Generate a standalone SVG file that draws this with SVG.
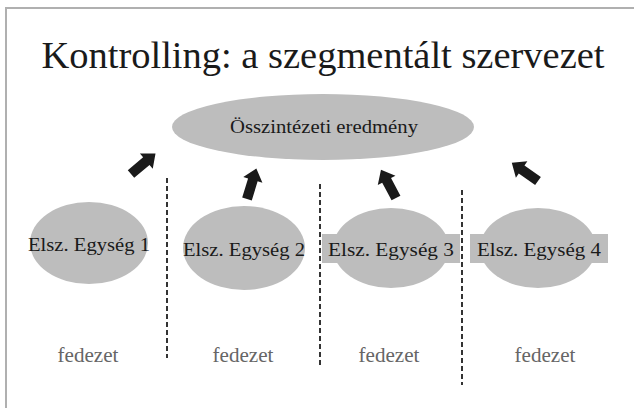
<svg xmlns="http://www.w3.org/2000/svg" width="634" height="408" viewBox="0 0 634 408">
<style>
.serif{font-family:"Liberation Serif","Times New Roman",serif;}
.title{font-size:38px;fill:#1a1a1a;}
.node{fill:#bdbdbd;}
.lbl{font-size:19px;fill:#1a1a1a;text-anchor:middle;}
.top{font-size:19px;fill:#1a1a1a;text-anchor:middle;}
.fed{font-size:20px;fill:#666;text-anchor:middle;}
.dash{stroke:#333;stroke-width:2;stroke-dasharray:5 3;fill:none;}
.arr{fill:#1a1a1a;}
</style>
<defs>
<polygon id="arrow" points="-5,0 -5,-20 -10,-20 0,-32 10,-20 5,-20 5,0"/>
</defs>
<rect x="0" y="0" width="634" height="408" fill="#fff"/>
<path d="M6,408 V8 H634" fill="none" stroke="#b0b0b0" stroke-width="2"/>
<text class="serif title" x="323" y="68" text-anchor="middle" textLength="563" lengthAdjust="spacingAndGlyphs">Kontrolling: a szegmentált szervezet</text>
<g id="total">
<ellipse class="node" cx="323" cy="127" rx="151" ry="33"/>
<text class="serif top" x="324" y="133" textLength="188" lengthAdjust="spacingAndGlyphs">Összintézeti eredmény</text>
</g>
<g id="unit1">
<ellipse class="node" cx="89" cy="243" rx="59" ry="41"/>
<text class="serif lbl" x="89" y="251" textLength="122" lengthAdjust="spacingAndGlyphs">Elsz. Egység 1</text>
</g>
<g id="unit2">
<ellipse class="node" cx="244" cy="248" rx="61" ry="42"/>
<text class="serif lbl" x="244" y="256" textLength="122" lengthAdjust="spacingAndGlyphs">Elsz. Egység 2</text>
</g>
<g id="unit3">
<ellipse class="node" cx="391" cy="248" rx="58" ry="40"/>
<rect class="node" x="322" y="234" width="138" height="29"/>
<text class="serif lbl" x="391" y="256" textLength="126" lengthAdjust="spacingAndGlyphs">Elsz. Egység 3</text>
</g>
<g id="unit4">
<ellipse class="node" cx="538" cy="248" rx="58" ry="40"/>
<rect class="node" x="470" y="234" width="138" height="29"/>
<text class="serif lbl" x="539" y="256" textLength="124" lengthAdjust="spacingAndGlyphs">Elsz. Egység 4</text>
</g>
<g id="fedezet">
<text class="serif fed" x="88" y="362" textLength="61" lengthAdjust="spacingAndGlyphs">fedezet</text>
<text class="serif fed" x="243" y="362" textLength="61" lengthAdjust="spacingAndGlyphs">fedezet</text>
<text class="serif fed" x="389" y="362" textLength="61" lengthAdjust="spacingAndGlyphs">fedezet</text>
<text class="serif fed" x="545" y="362" textLength="61" lengthAdjust="spacingAndGlyphs">fedezet</text>
</g>
<g id="connectors">
<line class="dash" x1="167" y1="178" x2="167" y2="358"/>
<line class="dash" x1="320" y1="184" x2="320" y2="368"/>
<line class="dash" x1="462" y1="190" x2="462" y2="385"/>
<use href="#arrow" class="arr" transform="translate(131,174) rotate(50)"/>
<use href="#arrow" class="arr" transform="translate(247,199) rotate(17)"/>
<use href="#arrow" class="arr" transform="translate(396,198) rotate(-28)"/>
<use href="#arrow" class="arr" transform="translate(538,181) rotate(-55)"/>
</g>
</svg>
